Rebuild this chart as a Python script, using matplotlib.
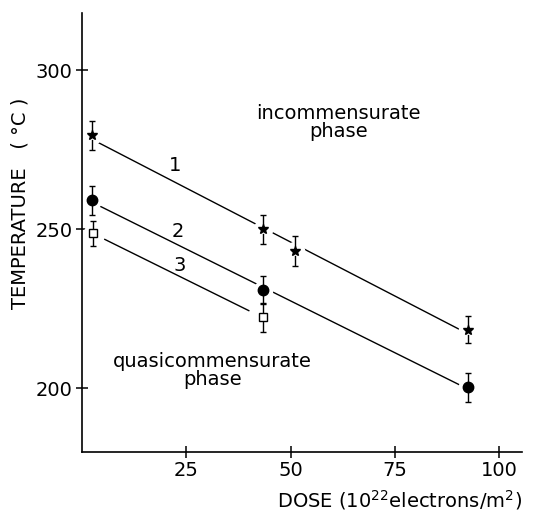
import matplotlib.pyplot as plt
import numpy as np

# readings from the figure
star_dose = [2.4, 43.3, 51.0, 92.5]
star_temp = [279.5, 250.0, 243.3, 218.5]
star_err = [4.5, 4.5, 4.7, 4.3]

circ_dose = [2.4, 43.3, 92.5]
circ_temp = [259.1, 230.8, 200.3]
circ_err = [4.5, 4.4, 4.5]

sq_dose = [2.6, 43.3]
sq_temp = [248.7, 222.3]
sq_err = [4.0, 4.5]

# fitted line extents
line_x = {1: (4.1, 91.3), 2: (4.1, 91.0), 3: (5.5, 40.0)}

fig = plt.figure(figsize=(5.35, 5.12), dpi=100)
ax = fig.add_axes([0.153, 0.117, 0.823, 0.858])
plt.rcParams['font.family'] = 'DejaVu Sans'

series = [(1, star_dose, star_temp), (2, circ_dose, circ_temp), (3, sq_dose, sq_temp)]
for n, xs, ys in series:
    p = np.polyfit(xs, ys, 1)
    xx = np.array(line_x[n])
    ax.plot(xx, np.polyval(p, xx), color='black', lw=1.0, zorder=1)

# white halos so the lines break around the points
allx = star_dose + circ_dose + sq_dose
ally = star_temp + circ_temp + sq_temp
ax.scatter(allx, ally, s=200, color='white', zorder=2, linewidths=0)

eb = dict(fmt='none', ecolor='black', elinewidth=1.0, capsize=2.5, capthick=1.0, zorder=3)
ax.errorbar(star_dose, star_temp, yerr=star_err, **eb)
ax.errorbar(circ_dose, circ_temp, yerr=circ_err, **eb)
ax.errorbar(sq_dose, sq_temp, yerr=sq_err, **eb)

ax.scatter(allx, ally, s=40, color='white', zorder=4, linewidths=0)
ax.plot(star_dose, star_temp, ls='none', marker='*', ms=7, color='black', zorder=5)
ax.plot(circ_dose, circ_temp, ls='none', marker='o', ms=7.5, color='black', zorder=5)
ax.plot(sq_dose, sq_temp, ls='none', marker='s', ms=5.5, mfc='white', mec='black', mew=1.0, zorder=5)

fs = 14
ax.text(22.4, 270, '1', fontsize=fs, ha='center', va='center')
ax.text(23.0, 249.4, '2', fontsize=fs, ha='center', va='center')
ax.text(23.5, 238.6, '3', fontsize=fs, ha='center', va='center')
ax.text(61.4, 283.6, 'incommensurate\nphase', fontsize=fs, ha='center', va='center',
        linespacing=0.95)
ax.text(31.3, 205.7, 'quasicommensurate\nphase', fontsize=fs, ha='center', va='center',
        linespacing=0.95)

ax.set_xlim(0, 105.5)
ax.set_ylim(180, 318)
ax.set_xticks([25, 50, 75, 100])
ax.set_yticks([200, 250, 300])
ax.spines['top'].set_visible(False)
ax.spines['right'].set_visible(False)
ax.spines['left'].set_linewidth(1.2)
ax.spines['bottom'].set_linewidth(1.2)
ax.tick_params(direction='inout', length=9, width=1.1, labelsize=fs, pad=2)

ax.set_ylabel('TEMPERATURE   ( °C )', fontsize=fs)
ax.yaxis.set_label_coords(-0.118, 0.567)
ax.set_xlabel(r'DOSE ($10^{22}$electrons/m$^2$)', fontsize=fs, loc='right', labelpad=6)

fig.savefig('out.png', dpi=100)
